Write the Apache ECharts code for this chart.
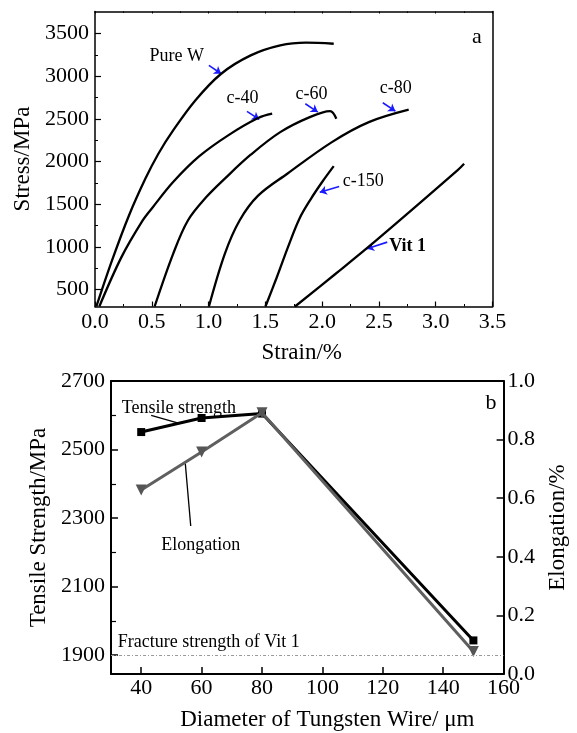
<!DOCTYPE html>
<html>
<head>
<meta charset="utf-8">
<script src="https://cdn.jsdelivr.net/npm/echarts@6/dist/echarts.min.js"></script>
<style>html,body{margin:0;padding:0;background:#fff}#c{width:577px;height:733px}</style>
</head>
<body>
<div id="c"></div>
<script>
// ---- Panel a: stress-strain curves [strain %, stress MPa] ----
const pureW = [[0.012,300],[0.15,840],[0.3,1370],[0.444,1800],[0.558,2092],[0.688,2365],[0.883,2717],[1.111,3030],[1.371,3245],[1.631,3362],[1.859,3394],[2.102,3382]];
const c40 = [[0.038,300],[0.233,879],[0.42,1310],[0.509,1465],[0.688,1760],[0.916,2060],[1.176,2310],[1.436,2510],[1.56,2561]];
const c60 = [[0.525,300],[0.688,918],[0.818,1309],[0.98,1583],[1.143,1800],[1.371,2080],[1.631,2345],[1.891,2521],[2.07,2591],[2.125,2502]];
const c80 = [[1.003,300],[1.143,918],[1.273,1309],[1.436,1600],[1.696,1860],[2.086,2228],[2.411,2462],[2.762,2608]];
const c150 = [[1.501,300],[1.6,640],[1.7,1000],[1.8,1330],[1.9,1560],[2.0,1760],[2.102,1946]];
const vit1 = [[1.761,300],[2.119,684],[2.476,1075],[3.191,1896],[3.25,1974]];
const curveNames = ['Pure W','c-40','c-60','c-80','c-150','Vit 1'];
const curveLabelPos = [[0.72,3233],[1.299,2737],[1.907,2795],[2.648,2854],[2.362,1767],[2.752,1004]];
const curveArrows = [[[1.003,3128],[1.111,3030]],[[1.338,2588],[1.446,2494]],[[1.852,2678],[1.962,2580]],[[2.534,2690],[2.645,2591]],[[2.15,1708],[1.979,1641]],[[2.573,1055],[2.395,977]]];
const stressLabels = [500,1000,1500,2000,2500,3000,3500];
const stressMinor = [750,1250,1750,2250,2750,3250];

// ---- Panel b: properties vs diameter ----
const diameters = [40,60,80,150];
const tensile = [2551,2592,2605,1943];
const elongation = [0.628,0.758,0.892,0.077];
const vit1Fracture = 1900;
const diamLabels = [40,60,80,100,120,140,160];
const diamTicks = [40,60,80,100,120,140];
const strengthLabels = [1900,2100,2300,2500,2700];
const strengthMinor = [2000,2200,2400,2600];
const bTexts = [['Tensile strength',[52.5,2620]],['Elongation',[59.7,2222]]];
const tensileLeader = [[43.3,2600],[52,2578]];
const elongLeader = [[54.6,0.719],[56.4,0.505]];

const FONT = 'Liberation Serif';
const chart = echarts.init(document.getElementById('c'), null, {renderer:'canvas'});
const txt = {fontFamily: FONT, color:'#000'};
const plain = v => String(v);

function plainAxis(extra){
  return Object.assign({
    splitLine:{show:false},
    axisLine:{show:true, onZero:false, lineStyle:{color:'#000', width:1.5}},
    axisTick:{show:false},
    axisLabel:{show:false}
  }, extra);
}

const labelScatter = (data, xi, yi, size, bold, pos) => ({
  type:'scatter', xAxisIndex:xi, yAxisIndex:yi, symbolSize:1, silent:true,
  itemStyle:{color:'rgba(0,0,0,0)', opacity:1},
  data: data.map(d => ({value:d[1], name:d[0]})),
  label:{show:true, position:pos||'inside', distance:0, formatter: p => p.name, fontFamily:FONT, fontSize:size,
    color:'#000', opacity:1, textBorderWidth:0, fontWeight: bold||'normal'}
});

const lineSeries = (d) => ({type:'line', xAxisIndex:0, yAxisIndex:0, data:d, smooth:0.35, showSymbol:false, symbol:'none', lineStyle:{color:'#000', width:2.3}, silent:true});

const option = {
  animation:false,
  backgroundColor:'#fff',
  grid:[
    {left:95, top:11.5, width:397.5, height:295},
    {left:111, top:381, width:398, height:293}
  ],
  xAxis:[
    plainAxis({gridIndex:0, type:'value', min:0, max:3.5, interval:0.5, position:'bottom',
      name:'Strain/%', nameLocation:'middle', nameGap:35, nameTextStyle:Object.assign({fontSize:23, padding:[0,0,0,16]}, txt),
      axisTick:{show:true, inside:true, length:5, lineStyle:{color:'#000', width:1.2}},
      minorTick:{show:true, splitNumber:2, length:2.5, lineStyle:{color:'#000', width:1}},
      axisLabel:Object.assign({show:true, fontSize:22, margin:5, formatter:v=>v.toFixed(1)}, txt)}),
    plainAxis({gridIndex:0, type:'value', min:0, max:3.5, interval:0.5, position:'top',
      axisTick:{show:true, inside:true, length:2, lineStyle:{color:'#000', width:1}},
      minorTick:{show:true, splitNumber:2, length:1.5, lineStyle:{color:'#000', width:1}}}),
    plainAxis({gridIndex:1, type:'value', min:30, max:160, position:'bottom',
      axisLine:{show:true, onZero:false, lineStyle:{color:'#000', width:2}},
      name:'Diameter of Tungsten Wire/ μm', nameLocation:'middle', nameGap:34, nameTextStyle:Object.assign({fontSize:23, padding:[0,0,0,40]}, txt),
      axisTick:{show:true, inside:true, length:7, customValues:diamTicks, lineStyle:{color:'#000', width:1.5}},
      axisLabel:Object.assign({show:true, fontSize:22, margin:3, customValues:diamLabels, formatter:plain}, txt)}),
    plainAxis({gridIndex:1, type:'value', min:30, max:160, position:'top',
      axisLine:{show:true, onZero:false, lineStyle:{color:'#000', width:2}}})
  ],
  yAxis:[
    plainAxis({gridIndex:0, type:'value', min:300, max:3760, position:'left',
      name:'Stress/MPa', nameLocation:'middle', nameGap:60, nameRotate:90, nameTextStyle:Object.assign({fontSize:23}, txt),
      axisTick:{show:true, inside:true, length:6, customValues:stressLabels, lineStyle:{color:'#000', width:1.2}},
      axisLabel:Object.assign({show:true, fontSize:22, margin:6, customValues:stressLabels, formatter:plain}, txt)}),
    plainAxis({gridIndex:0, type:'value', min:300, max:3760, position:'left',
      axisLine:{show:false},
      axisTick:{show:true, inside:true, length:3, customValues:stressMinor, lineStyle:{color:'#000', width:1}}}),
    plainAxis({gridIndex:0, type:'value', min:300, max:3760, position:'right'}),
    plainAxis({gridIndex:1, type:'value', min:1845, max:2700, position:'left',
      axisLine:{show:true, onZero:false, lineStyle:{color:'#000', width:2}},
      name:'Tensile Strength/MPa', nameLocation:'middle', nameGap:55, nameRotate:90, nameTextStyle:Object.assign({fontSize:23}, txt),
      axisTick:{show:true, inside:true, length:7, customValues:strengthLabels, lineStyle:{color:'#000', width:1.5}},
      axisLabel:Object.assign({show:true, fontSize:22, margin:6, customValues:strengthLabels, formatter:plain}, txt)}),
    plainAxis({gridIndex:1, type:'value', min:1845, max:2700, position:'left',
      axisLine:{show:false},
      axisTick:{show:true, inside:true, length:5, customValues:strengthMinor, lineStyle:{color:'#000', width:1.2}}}),
    plainAxis({gridIndex:1, type:'value', min:0, max:1.0, interval:0.2, position:'right',
      axisLine:{show:true, onZero:false, lineStyle:{color:'#000', width:2}},
      name:'Elongation/%', nameLocation:'middle', nameGap:38, nameRotate:90, nameTextStyle:Object.assign({fontSize:23}, txt),
      axisTick:{show:true, inside:true, length:7, lineStyle:{color:'#000', width:1.5}},
      axisLabel:Object.assign({show:true, fontSize:22, margin:4, formatter:v=>v.toFixed(1)}, txt)})
  ],
  series:[
    lineSeries(pureW), lineSeries(c40), lineSeries(c60), lineSeries(c80), lineSeries(c150), lineSeries(vit1),
    labelScatter(curveNames.slice(0,5).map((n,i)=>[n,curveLabelPos[i]]), 0, 0, 18),
    labelScatter([[curveNames[5], curveLabelPos[5]]], 0, 0, 18, 'bold'),
    labelScatter([['a',[3.363,3460]]], 0, 0, 22),
    {type:'lines', coordinateSystem:'cartesian2d', xAxisIndex:0, yAxisIndex:0, silent:true,
      data: curveArrows.map(a=>({coords:a})), symbol:['none','arrow'], symbolSize:7,
      lineStyle:{color:'#1a1aff', width:1.6, opacity:1}},
    // panel b
    {type:'line', xAxisIndex:2, yAxisIndex:3, data: diameters.map((d,i)=>[d,tensile[i]]),
      symbol:'rect', symbolSize:8, itemStyle:{color:'#000'}, lineStyle:{color:'#000', width:3}, silent:true, z:3,
      markLine:{silent:true, symbol:'none', label:{show:false},
        lineStyle:{color:'#999', width:1, type:[3,2,1,2]},
        data:[{yAxis:vit1Fracture}]}},
    {type:'line', xAxisIndex:2, yAxisIndex:5, data: diameters.map((d,i)=>[d,elongation[i]]),
      symbol:'triangle', symbolRotate:180, symbolSize:11, itemStyle:{color:'#555'}, lineStyle:{color:'#5f5f5f', width:3}, silent:true, z:4},
    labelScatter(bTexts, 2, 3, 18),
    labelScatter([['Fracture strength of Vit 1',[32.1,1937]]], 2, 3, 18, 'normal', 'right'),
    labelScatter([['b',[155.8,2634]]], 2, 3, 22),
    {type:'lines', coordinateSystem:'cartesian2d', xAxisIndex:2, yAxisIndex:3, silent:true,
      data:[{coords:tensileLeader}], symbol:['none','none'], lineStyle:{color:'#000', width:1.3, opacity:1}},
    {type:'lines', coordinateSystem:'cartesian2d', xAxisIndex:2, yAxisIndex:5, silent:true,
      data:[{coords:elongLeader}], symbol:['none','none'], lineStyle:{color:'#000', width:1.3, opacity:1}}
  ]
};
chart.setOption(option);
</script>
</body>
</html>
